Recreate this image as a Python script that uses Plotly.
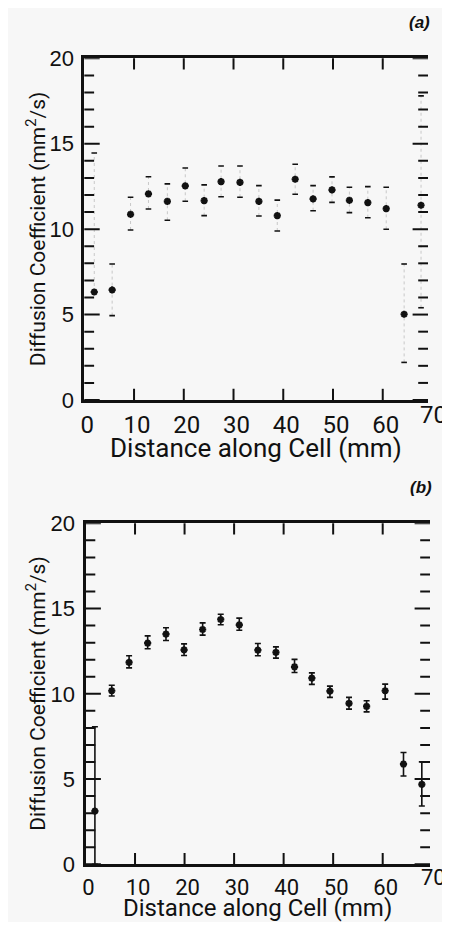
import plotly.graph_objects as go

# ---------------- data ----------------
x_a = [2.0, 5.6, 9.3, 12.9, 16.7, 20.3, 24.1, 27.5, 31.3, 35.1, 38.8, 42.4, 46.0, 49.8, 53.3, 57.0, 60.7, 64.3, 67.7]
d_a = [6.32, 6.44, 10.87, 12.06, 11.63, 12.53, 11.67, 12.78, 12.74, 11.63, 10.79, 12.92, 11.77, 12.30, 11.69, 11.55, 11.20, 5.02, 11.40]
hi_a = [14.46, 7.96, 11.87, 13.07, 12.65, 13.58, 12.59, 13.70, 13.70, 12.55, 11.70, 13.80, 12.55, 13.06, 12.45, 12.49, 12.45, 7.96, 17.8]
lo_a = [None, 4.94, 9.95, 11.18, 10.52, 11.63, 10.79, 11.90, 11.87, 10.77, 9.89, 12.04, 11.08, 11.57, 10.97, 10.67, 9.99, 2.2, 5.4]

x_b = [1.9, 5.3, 8.8, 12.55, 16.25, 19.9, 23.65, 27.3, 31.05, 34.8, 38.45, 42.2, 45.7, 49.35, 53.2, 56.75, 60.5, 64.2, 67.9]
d_b = [3.12, 10.18, 11.84, 12.97, 13.50, 12.58, 13.77, 14.36, 14.04, 12.56, 12.43, 11.58, 10.92, 10.16, 9.44, 9.26, 10.18, 5.88, 4.69]
hi_b = [8.07, 10.50, 12.23, 13.40, 13.87, 12.93, 14.16, 14.67, 14.44, 12.95, 12.75, 12.02, 11.23, 10.45, 9.79, 9.59, 10.57, 6.56, 6.01]
lo_b = [0.0, 9.87, 11.52, 12.64, 13.13, 12.25, 13.44, 14.05, 13.73, 12.23, 12.09, 11.25, 10.55, 9.79, 9.10, 8.94, 9.69, 5.18, 3.42]

x_ticks = [0, 10, 20, 30, 40, 50, 60]
x_inner_ticks = [10, 20, 30, 40, 50, 60]
x_last_label = 70
y_ticks = [0, 5, 10, 15, 20]
y_minor_step = 1
x_title = "Distance along Cell (mm)"
y_title = "Diffusion Coefficient (mm<sup>2</sup>/s)"
panel_labels = ["(a)", "(b)"]

# ---------------- layout geometry (page has an 8px body margin) ----------------
W, H = 442, 914
BG = "#f7f7f7"
INK = "#111111"
TXT = "Roboto, Liberation Sans, sans-serif"
REG = "Liberation Sans, Arial, sans-serif"

dom_ax = [76.3 / W, 420 / W]
dom_ay = [1 - 392 / H, 1 - 50.3 / H]
dom_bx = [77.5 / W, 422 / W]
dom_by = [1 - 856.3 / H, 1 - 515.3 / H]
xr_a = [0, 69.1]
xr_b = [0, 69.55]
yr = [0, 20]
y_minor = [v for v in range(yr[0], yr[1] + 1, y_minor_step) if v not in y_ticks]

fig = go.Figure()

# ---- panel (a)
seg_x, seg_y = [], []
for x, y, lo, hi in zip(x_a, d_a, lo_a, hi_a):
    seg_x += [x, x, None]
    seg_y += [lo if lo is not None else y, hi, None]
fig.add_trace(go.Scatter(x=seg_x, y=seg_y, mode="lines", xaxis="x", yaxis="y",
                         line=dict(color="#c8c8c8", width=1, dash="dot"),
                         hoverinfo="skip", showlegend=False))
cap_x = [x for x, lo in zip(x_a, lo_a) if lo is not None] + x_a
cap_y = [lo for lo in lo_a if lo is not None] + hi_a
fig.add_trace(go.Scatter(x=cap_x, y=cap_y, mode="markers", xaxis="x", yaxis="y",
                         marker=dict(symbol="line-ew-open", size=4, color=INK,
                                     line=dict(color=INK, width=1.6)),
                         showlegend=False))
fig.add_trace(go.Scatter(x=x_a, y=d_a, mode="markers", xaxis="x", yaxis="y",
                         marker=dict(symbol="asterisk-open", size=6, color=INK,
                                     line=dict(color=INK, width=2.2)),
                         showlegend=False))

# ---- panel (b)
fig.add_trace(go.Scatter(
    x=x_b, y=d_b, mode="markers", xaxis="x2", yaxis="y2",
    marker=dict(symbol="asterisk-open", size=6, color=INK, line=dict(color=INK, width=2.2)),
    error_y=dict(type="data", symmetric=False,
                 array=[h - d for h, d in zip(hi_b, d_b)],
                 arrayminus=[d - l for d, l in zip(d_b, lo_b)],
                 color=INK, thickness=1.6, width=3),
    showlegend=False))

# ---- inward tick marks on all four frame edges (centred on the frame and
#      clipped by the plot area, so only the inner half shows)
def tick_marks(xa, ya, xr):
    ev = dict(xaxis=xa, yaxis=ya, mode="markers", hoverinfo="skip",
              showlegend=False, cliponaxis=True)
    fig.add_trace(go.Scatter(x=[xr[0]] * len(y_ticks) + [xr[1]] * len(y_ticks),
                             y=y_ticks * 2,
                             marker=dict(symbol="line-ew-open", size=22, color=INK,
                                         line=dict(color=INK, width=2)), **ev))
    fig.add_trace(go.Scatter(x=[xr[0]] * len(y_minor) + [xr[1]] * len(y_minor),
                             y=y_minor * 2,
                             marker=dict(symbol="line-ew-open", size=14, color=INK,
                                         line=dict(color=INK, width=2)), **ev))
    fig.add_trace(go.Scatter(x=x_inner_ticks * 2,
                             y=[yr[0]] * len(x_inner_ticks) + [yr[1]] * len(x_inner_ticks),
                             marker=dict(symbol="line-ns-open", size=16, color=INK,
                                         line=dict(color=INK, width=2)), **ev))

tick_marks("x", "y", xr_a)
tick_marks("x2", "y2", xr_b)

# ---------------- axes ----------------
def main_x(dom, rng, anchor, font_size):
    return dict(domain=dom, range=rng, anchor=anchor, automargin=False,
                tickmode="array", tickvals=x_ticks, ticktext=[str(v) for v in x_ticks],
                ticks="", showline=True, linewidth=2.6, linecolor=INK, mirror=True,
                showgrid=False, zeroline=False, ticklabelshift=3, ticklabelstandoff=1,
                tickfont=dict(family=TXT, size=font_size, color=INK))

def main_y(dom, anchor):
    return dict(domain=dom, range=yr, anchor=anchor, automargin=False,
                tickmode="array", tickvals=y_ticks, ticks="",
                showline=True, linewidth=3, linecolor=INK,
                showgrid=False, zeroline=False, ticklabelstandoff=3,
                tickfont=dict(family=REG, size=22, color=INK))

def right_y(dom, over, anchor):
    return dict(domain=dom, range=yr, overlaying=over, anchor=anchor, side="right",
                automargin=False, ticks="", showticklabels=False,
                showline=True, linewidth=1.5, linecolor=INK,
                showgrid=False, zeroline=False)

fig.update_layout(
    template="none",
    width=W, height=H, autosize=False,
    margin=dict(l=0, r=0, t=0, b=0, autoexpand=False),
    paper_bgcolor=BG, plot_bgcolor="rgba(0,0,0,0)",
    xaxis=main_x(dom_ax, xr_a, "y", 24),
    yaxis=main_y(dom_ay, "x"),
    yaxis3=right_y(dom_ay, "y", "x"),
    xaxis2=main_x(dom_bx, xr_b, "y2", 22),
    yaxis2=main_y(dom_by, "x2"),
    yaxis4=right_y(dom_by, "y2", "x2"),
)

for dom_x, rng, dom_y, fs, tfs, ysh_t in [(dom_ax, xr_a, dom_ay, 24, 26, -31),
                                          (dom_bx, xr_b, dom_by, 22, 24, -28)]:
    xp = dom_x[0] + (x_last_label - rng[0]) / (rng[1] - rng[0]) * (dom_x[1] - dom_x[0])
    fig.add_annotation(x=xp, y=dom_y[0], xref="paper", yref="paper",
                       text=str(x_last_label), showarrow=False,
                       xanchor="center", yanchor="top", xshift=1, yshift=1,
                       font=dict(family=TXT, size=fs, color=INK))
    # x-axis title
    fig.add_annotation(x=(dom_x[0] + dom_x[1]) / 2, y=dom_y[0], xref="paper", yref="paper",
                       text=x_title, showarrow=False, xanchor="center", yanchor="top",
                       yshift=ysh_t, font=dict(family=TXT, size=tfs, color=INK))
    # y-axis title
    fig.add_annotation(x=0, y=(dom_y[0] + dom_y[1]) / 2, xref="paper", yref="paper",
                       text=y_title, showarrow=False, textangle=-90,
                       xanchor="left", yanchor="middle", xshift=12,
                       font=dict(family=TXT, size=21, color=INK))

for lbl, dom_x, dom_y in [(panel_labels[0], dom_ax, dom_ay), (panel_labels[1], dom_bx, dom_by)]:
    fig.add_annotation(x=dom_x[1], y=dom_y[1], xref="paper", yref="paper",
                       text="<b><i>" + lbl + "</i></b>", showarrow=False,
                       xanchor="right", yanchor="bottom", yshift=24, xshift=4,
                       font=dict(family=REG, size=17, color=INK))

fig.write_html("out.html")
